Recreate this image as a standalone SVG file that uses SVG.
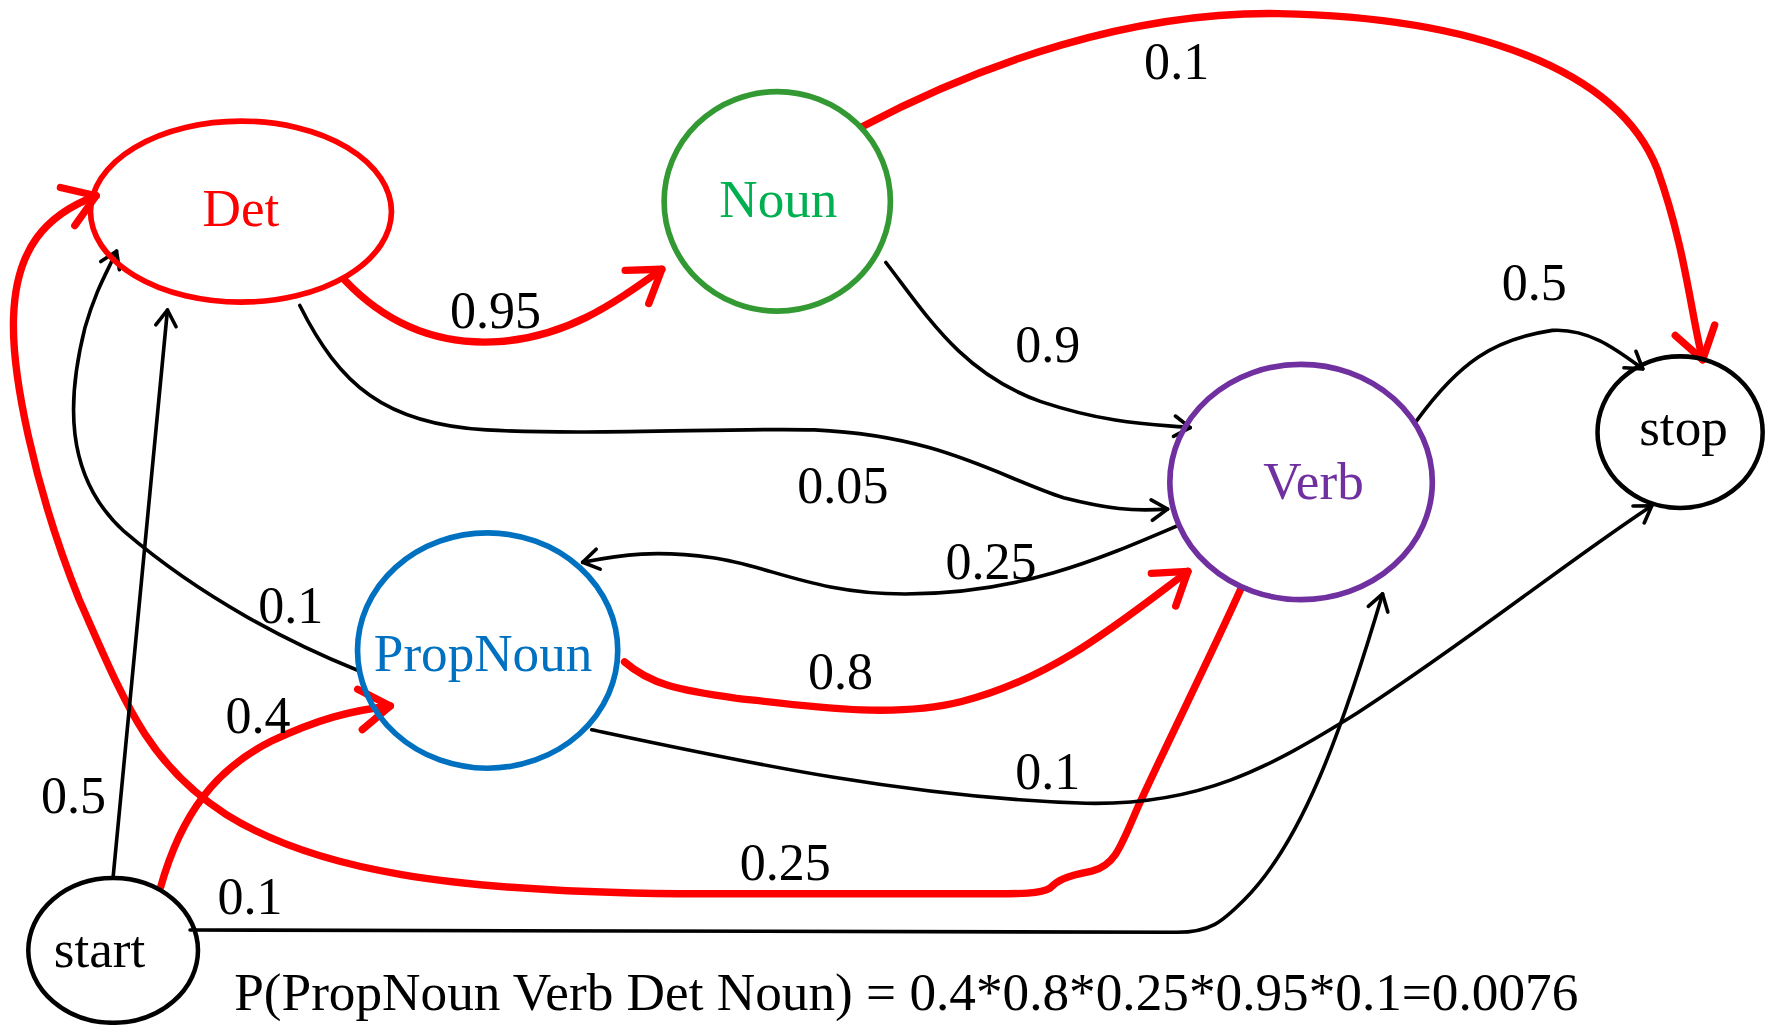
<svg xmlns="http://www.w3.org/2000/svg" width="1774" height="1025" viewBox="0 0 1774 1025">
<defs>
<style>
.t{font-family:"Liberation Serif","Times New Roman",serif;font-size:46px;text-anchor:middle;fill:#000}
.n{font-family:"Liberation Serif","Times New Roman",serif;font-size:47px;text-anchor:middle}
.r{fill:none;stroke:#FF0000;stroke-width:6.5;stroke-linecap:round;stroke-linejoin:round}
.b{fill:none;stroke:#000;stroke-width:3.2;stroke-linecap:round;stroke-linejoin:round}
</style>
<marker id="ar" viewBox="-34 -24 38 48" markerWidth="38" markerHeight="48" refX="0" refY="0" orient="auto" markerUnits="userSpaceOnUse">
<path d="M-27,-18 L0,0 L-27,18" fill="none" stroke="#FF0000" stroke-width="6.5" stroke-linecap="round" stroke-linejoin="round"/>
</marker>
<marker id="ab" viewBox="-19 -13 23 26" markerWidth="23" markerHeight="26" refX="0" refY="0" orient="auto" markerUnits="userSpaceOnUse">
<path d="M-14,-9 L0,0 L-14,9" fill="none" stroke="#000" stroke-width="3.2" stroke-linecap="round" stroke-linejoin="round"/>
</marker>
</defs>
<rect width="1774" height="1025" fill="#fff"/>
<g transform="scale(1.13138)">
<g id="connectors">
<path class="r" marker-end="url(#ar)" d="M762,112 C870,55 1000,10 1130,12 C1300,15 1430,60 1465,150 C1490,220 1495,280 1505,318"/>
<path class="r" marker-end="url(#ar)" d="M305,248 C345,290 390,305 440,302 C500,298 540,270 585,238"/>
<path class="r" marker-end="url(#ar)" d="M142,784 C160,720 190,680 240,655 C280,636 310,628 345,624"/>
<path class="r" marker-end="url(#ar)" d="M552,585 C575,605 600,610 650,617 C720,625 790,635 850,620 C930,600 990,550 1050,505"/>
<path class="r" marker-end="url(#ar)" d="M1097,520 C1070,580 1030,660 1005,715 C990,750 985,765 965,770 C940,775 935,778 928,785 C920,790 900,790 880,790 L600,790 C400,788 280,770 200,720 C130,675 110,620 70,530 C30,430 10,330 12,280 C14,220 40,190 85,173"/>
<path class="b" marker-end="url(#ab)" d="M100,775 L148,274"/>
<path class="b" marker-end="url(#ab)" d="M315,592 C260,570 180,530 110,470 C55,420 60,350 75,290 C85,255 95,240 103,222"/>
<path class="b" marker-end="url(#ab)" d="M265,270 C300,340 340,375 430,380 C520,385 650,378 720,380 C830,385 880,420 940,440 C980,450 1000,452 1032,450"/>
<path class="b" marker-end="url(#ab)" d="M783,232 C820,280 850,330 920,355 C980,375 1020,375 1052,378"/>
<path class="b" marker-end="url(#ab)" d="M1040,465 C970,495 900,525 800,525 C720,525 680,500 630,493 C580,486 550,490 515,497"/>
<path class="b" marker-end="url(#ab)" d="M1252,372 C1290,320 1320,300 1372,292 C1405,290 1430,310 1452,326"/>
<path class="b" marker-end="url(#ab)" d="M523,645 C650,672 800,705 960,710 C1060,712 1120,680 1200,630 C1300,565 1380,500 1460,447"/>
<path class="b" marker-end="url(#ab)" d="M168,822 L1040,824 C1070,824 1080,815 1100,795 C1150,745 1185,650 1222,525"/>
</g>
<g id="labels">
<text class="t" x="1040" y="70">0.1</text>
<text class="t" x="438" y="290">0.95</text>
<text class="t" x="926" y="320">0.9</text>
<text class="t" x="1356" y="265">0.5</text>
<text class="t" x="745" y="445">0.05</text>
<text class="t" x="876" y="512">0.25</text>
<text class="t" x="257" y="551">0.1</text>
<text class="t" x="743" y="609">0.8</text>
<text class="t" x="228" y="648">0.4</text>
<text class="t" x="926" y="697">0.1</text>
<text class="t" x="65" y="719">0.5</text>
<text class="t" x="694" y="778">0.25</text>
<text class="t" x="221" y="808">0.1</text>
<text class="t" x="801" y="893" textLength="1188" lengthAdjust="spacingAndGlyphs" font-size="47">P(PropNoun Verb Det Noun) = 0.4*0.8*0.25*0.95*0.1=0.0076</text>
</g>
<g id="node-det">
<ellipse cx="213" cy="187" rx="133" ry="80" fill="none" stroke="#FF0000" stroke-width="5"/>
<text class="n" x="213" y="200" fill="#FF0000">Det</text>
</g>
<g id="node-noun">
<ellipse cx="687" cy="178" rx="100" ry="97" fill="none" stroke="#339933" stroke-width="5"/>
<text class="n" x="688" y="192" fill="#00B050">Noun</text>
</g>
<g id="node-verb">
<ellipse cx="1150" cy="426" rx="116" ry="104" fill="none" stroke="#7030A0" stroke-width="5"/>
<text class="n" x="1161" y="441" fill="#7030A0">Verb</text>
</g>
<g id="node-stop">
<ellipse cx="1485" cy="382" rx="73" ry="67" fill="none" stroke="#000" stroke-width="4"/>
<text class="n" x="1488" y="393" fill="#000">stop</text>
</g>
<g id="node-propnoun">
<ellipse cx="431" cy="575" rx="115" ry="104" fill="none" stroke="#0070C0" stroke-width="5"/>
<text class="n" x="427" y="593" fill="#0070C0">PropNoun</text>
</g>
<g id="node-start">
<ellipse cx="100" cy="840" rx="75" ry="64" fill="none" stroke="#000" stroke-width="4"/>
<text class="n" x="88" y="855" fill="#000">start</text>
</g>
</g>
</svg>
